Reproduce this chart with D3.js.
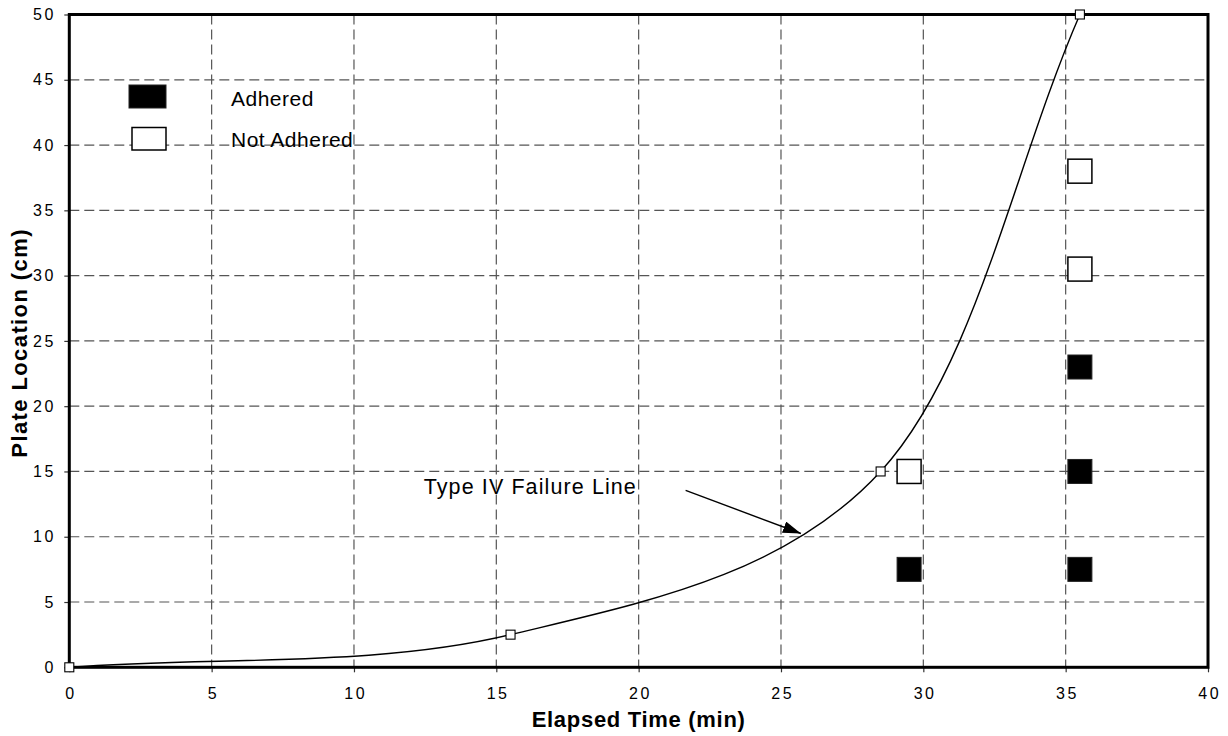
<!DOCTYPE html>
<html>
<head>
<meta charset="utf-8">
<script src="https://cdn.jsdelivr.net/npm/d3@7"></script>
<style>
  html, body { margin: 0; padding: 0; background: #fff; }
  svg { display: block; }
  text { font-family: "Liberation Sans", Arial, sans-serif; fill: #000; }
</style>
</head>
<body>
<svg id="chart" width="1228" height="736"></svg>
<script>
// Failure line points (elapsed time in min, plate location in cm)
const failureTime = [0, 15.5, 28.5, 35.5];
const failureLoc  = [0, 2.5, 15, 50];

// Plates that stayed adhered
const adheredTime = [29.5, 35.5, 35.5, 35.5];
const adheredLoc  = [7.5, 7.5, 15, 23];

// Plates that came loose
const notAdheredTime = [29.5, 35.5, 35.5];
const notAdheredLoc  = [15, 30.5, 38];

// Axis ticks
const xTicks = [0, 5, 10, 15, 20, 25, 30, 35, 40];
const yTicks = [0, 5, 10, 15, 20, 25, 30, 35, 40, 45, 50];

// Legend entries
const legendLabels = ["Adhered", "Not Adhered"];

// Annotation: label anchor and arrow (data units)
const noteText = "Type IV Failure Line";
const noteAt = [12.45, 13.3];
const arrowFrom = [21.65, 13.55];
const arrowTo = [25.7, 10.25];

const svg = d3.select("#chart");
const plotLeft = 69.3, plotRight = 1208, plotTop = 14.5, plotBottom = 667.3;

const x = d3.scaleLinear().domain([0, 40]).range([plotLeft, plotRight]);
const y = d3.scaleLinear().domain([0, 50]).range([plotBottom, plotTop]);

// Smooth curve: Catmull-Rom Bezier segments with mirrored end points
function smoothCurve(context) {
  let pts;
  return {
    areaStart() {}, areaEnd() {},
    lineStart() { pts = []; },
    point(px, py) { pts.push([+px, +py]); },
    lineEnd() {
      const n = pts.length;
      if (!n) return;
      context.moveTo(pts[0][0], pts[0][1]);
      if (n === 1) return;
      const P = i => {
        if (i < 0) return [2 * pts[0][0] - pts[1][0], 2 * pts[0][1] - pts[1][1]];
        if (i >= n) return [2 * pts[n - 1][0] - pts[n - 2][0], 2 * pts[n - 1][1] - pts[n - 2][1]];
        return pts[i];
      };
      for (let i = 0; i < n - 1; i++) {
        const a = P(i - 1), b = P(i), c = P(i + 1), d = P(i + 2);
        context.bezierCurveTo(
          b[0] + (c[0] - a[0]) / 6, b[1] + (c[1] - a[1]) / 6,
          c[0] - (d[0] - b[0]) / 6, c[1] - (d[1] - b[1]) / 6,
          c[0], c[1]
        );
      }
    }
  };
}

// Grid lines
const grid = svg.append("g").attr("stroke", "#555").attr("stroke-width", 1.2)
  .attr("stroke-dasharray", "10,5").attr("fill", "none");
grid.selectAll("line.v").data(xTicks.filter(t => t > 0 && t < 40)).join("line")
  .attr("class", "v")
  .attr("x1", d => x(d)).attr("x2", d => x(d))
  .attr("y1", plotTop).attr("y2", plotBottom);
grid.selectAll("line.h").data(yTicks.filter(t => t > 0 && t < 50)).join("line")
  .attr("class", "h")
  .attr("x1", plotLeft).attr("x2", plotRight)
  .attr("y1", d => y(d)).attr("y2", d => y(d));

// Axes (ticks and labels only; frame drawn separately)
const xAxis = svg.append("g").attr("transform", `translate(0,${plotBottom})`)
  .call(d3.axisBottom(x).tickValues(xTicks).tickFormat(d3.format("d")).tickSize(5).tickPadding(15));
const yAxis = svg.append("g").attr("transform", `translate(${plotLeft},0)`)
  .call(d3.axisLeft(y).tickValues(yTicks).tickFormat(d3.format("d")).tickSize(5).tickPadding(8.5));
[xAxis, yAxis].forEach(g => {
  g.select(".domain").remove();
  g.selectAll(".tick line").attr("stroke", "#333").attr("stroke-width", 1.2);
  g.selectAll(".tick text")
    .style("font-family", "'Liberation Sans', Arial, sans-serif")
    .style("font-size", "16px").style("letter-spacing", "2.5px").attr("fill", "#000");
});
xAxis.selectAll(".tick text").attr("dx", "1.25");

// Plot frame
svg.append("rect")
  .attr("x", plotLeft).attr("y", plotTop)
  .attr("width", plotRight - plotLeft).attr("height", plotBottom - plotTop)
  .attr("fill", "none").attr("stroke", "#000").attr("stroke-width", 3);

// Failure line
const failurePts = failureTime.map((t, i) => [t, failureLoc[i]]);
svg.append("path")
  .datum(failurePts)
  .attr("fill", "none").attr("stroke", "#000").attr("stroke-width", 1.4)
  .attr("d", d3.line().x(d => x(d[0])).y(d => y(d[1])).curve(smoothCurve));

svg.append("g").selectAll("rect").data(failurePts).join("rect")
  .attr("x", d => x(d[0]) - 4.5).attr("y", d => y(d[1]) - 4.5)
  .attr("width", 9).attr("height", 9)
  .attr("fill", "#fff").attr("stroke", "#000").attr("stroke-width", 1.1);

// Adhered / not adhered plates
const sq = 24;
svg.append("g").selectAll("rect")
  .data(adheredTime.map((t, i) => [t, adheredLoc[i]])).join("rect")
  .attr("x", d => x(d[0]) - sq / 2).attr("y", d => y(d[1]) - sq / 2)
  .attr("width", sq).attr("height", sq)
  .attr("fill", "#000").attr("stroke", "#222").attr("stroke-width", 1);
svg.append("g").selectAll("rect")
  .data(notAdheredTime.map((t, i) => [t, notAdheredLoc[i]])).join("rect")
  .attr("x", d => x(d[0]) - sq / 2).attr("y", d => y(d[1]) - sq / 2)
  .attr("width", sq).attr("height", sq)
  .attr("fill", "#fff").attr("stroke", "#000").attr("stroke-width", 1.5);

// Legend
const legend = svg.append("g");
legend.append("rect").attr("x", 129).attr("y", 85).attr("width", 37).attr("height", 23)
  .attr("fill", "#000").attr("stroke", "#222").attr("stroke-width", 1);
legend.append("rect").attr("x", 132).attr("y", 127.5).attr("width", 34).attr("height", 22.5)
  .attr("fill", "#fff").attr("stroke", "#000").attr("stroke-width", 1.5);
legend.selectAll("text").data(legendLabels).join("text")
  .attr("x", 231).attr("y", (d, i) => 105.7 + i * 41)
  .style("font-size", "21px").style("letter-spacing", "0.5px")
  .text(d => d);

// Annotation
const defs = svg.append("defs");
defs.append("marker").attr("id", "arrowhead")
  .attr("viewBox", "0 0 18 12").attr("refX", 18).attr("refY", 6)
  .attr("markerWidth", 18).attr("markerHeight", 12)
  .attr("markerUnits", "userSpaceOnUse").attr("orient", "auto")
  .append("path").attr("d", "M0,0 L18,6 L0,12 Z").attr("fill", "#000");

svg.append("line")
  .attr("x1", x(arrowFrom[0])).attr("y1", y(arrowFrom[1]))
  .attr("x2", x(arrowTo[0])).attr("y2", y(arrowTo[1]))
  .attr("stroke", "#000").attr("stroke-width", 1.4)
  .attr("marker-end", "url(#arrowhead)");

svg.append("text")
  .attr("x", x(noteAt[0])).attr("y", y(noteAt[1]))
  .style("font-size", "21.5px").style("letter-spacing", "1.1px")
  .text(noteText);

// Axis titles
svg.append("text")
  .attr("x", (plotLeft + plotRight) / 2).attr("y", 727.3)
  .attr("text-anchor", "middle")
  .style("font-size", "22px").style("font-weight", "bold").style("letter-spacing", "0.7px")
  .text("Elapsed Time (min)");

svg.append("text")
  .attr("transform", `translate(26.7,${(plotTop + plotBottom) / 2 + 2}) rotate(-90)`)
  .attr("text-anchor", "middle")
  .style("font-size", "22px").style("font-weight", "bold").style("letter-spacing", "1.4px")
  .text("Plate Location (cm)");
</script>
</body>
</html>
